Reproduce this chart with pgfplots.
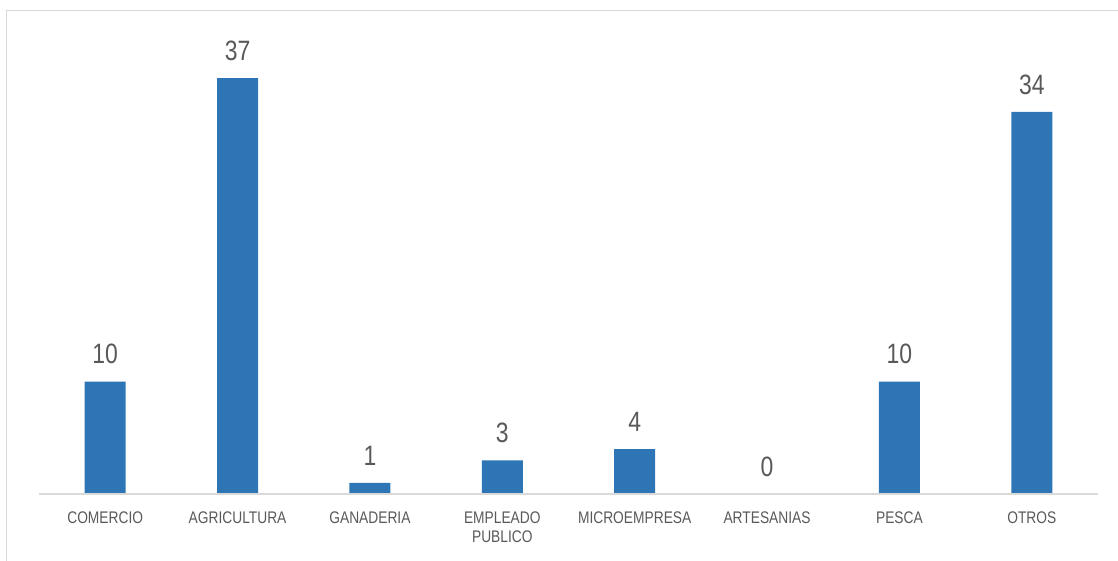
\documentclass[border=0pt]{standalone}
\usepackage{fontspec}
\setmainfont{Liberation Sans}[FakeStretch=0.82]
\usepackage{pgfplots}
\pgfplotsset{compat=1.18}
\definecolor{barblue}{HTML}{2E75B6}
\definecolor{labelgray}{HTML}{595959}
\definecolor{axisgray}{HTML}{D9D9D9}

\begin{document}
\begin{tikzpicture}
\path[use as bounding box] (-19.5pt,-33.5pt) rectangle (539.5pt,247pt);
\draw[axisgray, line width=0.5pt] (-16pt,-40pt) -- (-16pt,241.5pt) -- (560pt,241.5pt);
\begin{axis}[
  scale only axis,
  width=529.5pt, height=224.8pt,
  xmin=-0.5, xmax=7.5,
  ymin=0, ymax=40,
  axis x line=bottom,
  axis y line=none,
  axis on top,
  x axis line style={-, axisgray, line width=0.75pt},
  major tick length=0pt,
  /pgf/number format/assume math mode=true,
  xtick=data,
  xticklabels={COMERCIO,AGRICULTURA,GANADERIA,{EMPLEADO\\PUBLICO},MICROEMPRESA,ARTESANIAS,PESCA,OTROS},
  xticklabel style={font=\fontsize{8.4}{9.5}\selectfont, text=labelgray, align=center, inner sep=0pt, anchor=north, yshift=-8.5pt},
  ybar, bar width=20.5pt,
  clip=false,
  nodes near coords,
  nodes near coords style={font=\fontsize{14}{14}\selectfont, text=labelgray, inner sep=0pt, anchor=south, yshift=8.5pt},
]
\addplot[draw=none, fill=barblue] coordinates {
  (0,10) (1,37) (2,1) (3,3) (4,4) (5,0) (6,10) (7,34)
};
\end{axis}
\end{tikzpicture}
\end{document}
